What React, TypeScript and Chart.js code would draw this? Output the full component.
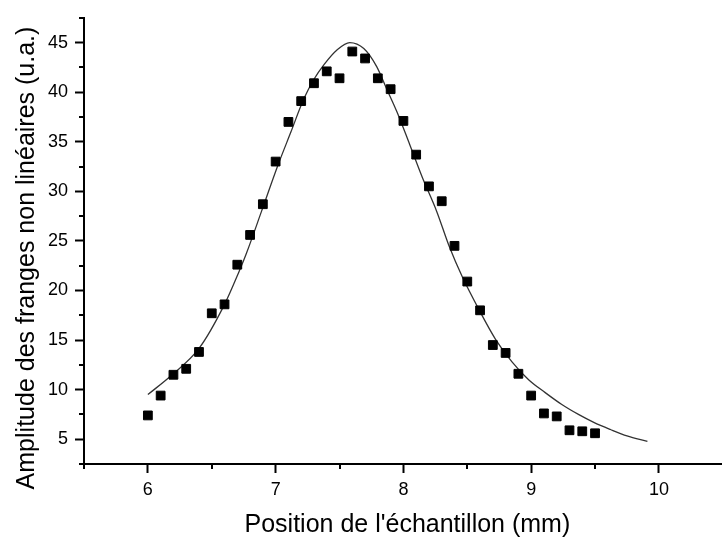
import React, { useEffect, useRef } from 'react';
import { Chart, registerables } from 'chart.js';

Chart.register(...registerables);

// Measured samples
const positions = [6.0, 6.1, 6.2, 6.3, 6.4, 6.5, 6.6, 6.7, 6.8, 6.9, 7.0, 7.1, 7.2, 7.3, 7.4, 7.5, 7.6, 7.7, 7.8, 7.9, 8.0, 8.1, 8.2, 8.3, 8.4, 8.5, 8.6, 8.7, 8.8, 8.9, 9.0, 9.1, 9.2, 9.3, 9.4, 9.5];
const amplitudes = [7.4, 9.4, 11.5, 12.1, 13.8, 17.7, 18.6, 22.6, 25.6, 28.7, 33.0, 37.0, 39.1, 40.9, 42.1, 41.4, 44.1, 43.4, 41.4, 40.3, 37.1, 33.7, 30.5, 29.0, 24.5, 20.9, 18.0, 14.5, 13.7, 11.6, 9.4, 7.6, 7.3, 5.9, 5.8, 5.6];

// Fitted curve
const fitX = [6.0, 6.19, 6.4, 6.6, 6.71, 6.77, 6.89, 7.02, 7.12, 7.22, 7.3, 7.38, 7.48, 7.58, 7.69, 7.79, 7.87, 7.95, 8.05, 8.15, 8.26, 8.36, 8.46, 8.59, 8.72, 8.85, 8.98, 9.11, 9.24, 9.37, 9.49, 9.62, 9.75, 9.91];
const fitY = [9.5, 11.5, 14.15, 18.6, 21.8, 23.7, 28.0, 32.7, 36.0, 39.3, 41.3, 42.8, 44.25, 45.0, 44.4, 42.6, 40.3, 38.0, 34.7, 31.35, 28.0, 24.4, 21.4, 18.1, 15.1, 12.8, 11.0, 9.7, 8.5, 7.5, 6.7, 5.98, 5.33, 4.78];

const xMin = 5.5;
const xMax = 10.5;
const xStep = 0.5;
const yMin = 2.5;
const yMax = 47.5;
const yStep = 2.5;
const xMajor = 1;
const yMajor = 5;

const xTitle = "Position de l'échantillon (mm)";
const yTitle = 'Amplitude des franges non linéaires (u.a.)';

const FONT = "'Liberation Sans', Arial, sans-serif";

const isMajor = (v: number, step: number) => Math.abs(v / step - Math.round(v / step)) < 1e-6;

const decorPlugin = {
  id: 'decor',
  afterDraw(chart: any) {
    const ctx = chart.ctx as CanvasRenderingContext2D;
    const xs = chart.scales.x;
    const ys = chart.scales.y;
    ctx.save();
    ctx.strokeStyle = '#000';
    ctx.lineWidth = 2;
    xs.ticks.forEach((t: any) => {
      if (isMajor(t.value, xMajor)) return;
      const px = Math.round(xs.getPixelForValue(t.value));
      ctx.beginPath();
      ctx.moveTo(px, xs.top);
      ctx.lineTo(px, xs.top + 5);
      ctx.stroke();
    });
    ys.ticks.forEach((t: any) => {
      if (isMajor(t.value, yMajor)) return;
      const py = Math.round(ys.getPixelForValue(t.value));
      ctx.beginPath();
      ctx.moveTo(ys.right, py);
      ctx.lineTo(ys.right - 5, py);
      ctx.stroke();
    });
    ctx.fillStyle = '#000';
    ctx.font = `25px ${FONT}`;
    ctx.textAlign = 'center';
    ctx.textBaseline = 'alphabetic';
    ctx.fillText(xTitle, (xs.left + xs.right) / 2 + 4, 532);
    ctx.translate(33.5, 258);
    ctx.rotate(-Math.PI / 2);
    ctx.fillText(yTitle, 0, 0);
    ctx.restore();
  },
};

export default function App() {
  const ref = useRef<HTMLCanvasElement | null>(null);

  useEffect(() => {
    if (!ref.current) return;
    const chart = new Chart(ref.current, {
      type: 'scatter',
      data: {
        datasets: [
          {
            label: 'data',
            data: positions.map((x, i) => ({ x, y: amplitudes[i] })),
            pointStyle: 'rect',
            pointRadius: 6.2,
            backgroundColor: '#000',
            borderColor: '#000',
            borderWidth: 1,
            showLine: false,
            order: 0,
          },
          {
            label: 'fit',
            data: fitX.map((x, i) => ({ x, y: fitY[i] })),
            showLine: true,
            borderColor: '#333',
            borderWidth: 1.3,
            pointRadius: 0,
            cubicInterpolationMode: 'monotone',
            fill: false,
            order: 1,
          } as any,
        ],
      },
      options: {
        responsive: false,
        animation: false,
        devicePixelRatio: 1,
        layout: { padding: { top: 11, left: 0, right: 0, bottom: 0 } },
        plugins: { legend: { display: false }, tooltip: { enabled: false } },
        scales: {
          x: {
            type: 'linear',
            position: 'bottom',
            min: xMin,
            max: xMax,
            afterFit: (s: any) => { s.height = 76; },
            border: { display: true, color: '#000', width: 2 },
            grid: {
              drawOnChartArea: false,
              drawTicks: true,
              tickLength: 9,
              tickWidth: 2,
              tickColor: (c: any) => (c.tick && isMajor(c.tick.value, xMajor) ? '#000' : 'rgba(0,0,0,0)'),
            },
            ticks: {
              stepSize: xStep,
              autoSkip: false,
              maxRotation: 0,
              padding: 6,
              color: '#000',
              font: { family: FONT, size: 18 },
              callback: (v: any) => (isMajor(Number(v), xMajor) ? String(Math.round(Number(v))) : ''),
            },
          },
          y: {
            type: 'linear',
            min: yMin,
            max: yMax,
            afterFit: (s: any) => { s.width = 84; },
            border: { display: true, color: '#000', width: 2 },
            grid: {
              drawOnChartArea: false,
              drawTicks: true,
              tickLength: 9,
              tickWidth: 2,
              tickColor: (c: any) => (c.tick && isMajor(c.tick.value, yMajor) ? '#000' : 'rgba(0,0,0,0)'),
            },
            ticks: {
              stepSize: yStep,
              autoSkip: false,
              padding: 7,
              color: '#000',
              font: { family: FONT, size: 18 },
              callback: (v: any) => (isMajor(Number(v), yMajor) ? String(Math.round(Number(v))) : ''),
            },
          },
        },
      },
      plugins: [decorPlugin],
    });
    return () => chart.destroy();
  }, []);

  return (
    <div style={{ position: 'fixed', left: 0, top: 0, width: 722, height: 540, overflow: 'hidden', background: '#fff' }}>
      <canvas ref={ref} width={730} height={540} style={{ display: 'block' }} />
    </div>
  );
}
